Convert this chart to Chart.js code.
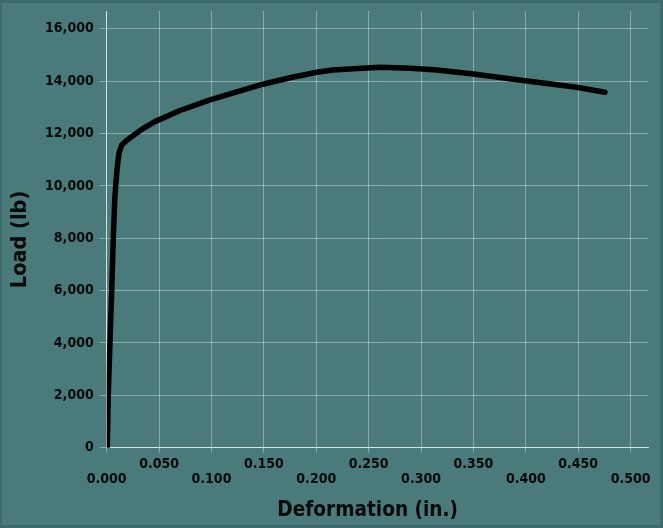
<!DOCTYPE html>
<html><head><meta charset="utf-8">
<script src="https://cdn.jsdelivr.net/npm/chart.js@4/dist/chart.umd.min.js"></script>
<style>
html,body{margin:0;padding:0;background:#3d6a6a;width:663px;height:528px;overflow:hidden;}
#wrap{position:absolute;left:2px;top:3px;width:658px;height:522px;background:#4a7a7a;}
canvas{display:block;}
</style></head><body>
<div id="wrap"><canvas id="c" width="658" height="522"></canvas></div>
<script>
const deformation = [0.0005, 0.0015, 0.0031, 0.0048, 0.0063, 0.0077, 0.0086, 0.0098, 0.0117, 0.0143, 0.0180, 0.0238, 0.035, 0.046, 0.070, 0.0986, 0.125, 0.149, 0.175, 0.2004, 0.216, 0.240, 0.261, 0.290, 0.315, 0.350, 0.401, 0.4485, 0.4755];
const load = [0, 2000, 4000, 6000, 8000, 9500, 10000, 10600, 11250, 11560, 11700, 11880, 12200, 12455, 12880, 13284, 13600, 13884, 14130, 14342, 14430, 14480, 14530, 14490, 14430, 14277, 14010, 13770, 13578];
const xTickValues = [0, 0.05, 0.1, 0.15, 0.2, 0.25, 0.3, 0.35, 0.4, 0.45, 0.5];
const yTickValues = [0, 2000, 4000, 6000, 8000, 10000, 12000, 14000, 16000];
const xTitle = 'Deformation (in.)';
const yTitle = 'Load (lb)';

const FONT = '"DejaVu Sans Condensed", "DejaVu Sans", sans-serif';
const gridColor = 'rgba(225,238,238,0.42)';
const textColor = '#0a0a0a';

new Chart(document.getElementById('c'), {
  type: 'line',
  data: {
    datasets: [{
      data: deformation.map((x, i) => ({x: x, y: load[i]})),
      borderColor: '#000000',
      borderWidth: 5.5,
      borderCapStyle: 'round',
      borderJoinStyle: 'round',
      pointRadius: 0,
      tension: 0,
      fill: false
    }]
  },
  options: {
    responsive: false,
    animation: false,
    devicePixelRatio: 1,
    layout: {padding: {top: 8, right: 12, bottom: 0, left: 0}},
    plugins: {legend: {display: false}, tooltip: {enabled: false}},
    scales: {
      x: {
        type: 'linear',
        min: 0,
        max: 0.5166,
        afterBuildTicks: s => { s.ticks = xTickValues.map(v => ({value: v})); },
        afterFit: s => { s.height = 77.3; s.paddingLeft = 0; s.paddingRight = 0; s.paddingTop = 0; s.paddingBottom = 0; },
        grid: {color: gridColor, lineWidth: 1, tickLength: 5, drawTicks: true},
        border: {color: 'rgba(235,245,245,0.75)', width: 1},
        ticks: {
          autoSkip: false,
          maxRotation: 0,
          minRotation: 0,
          padding: 4,
          color: textColor,
          font: {family: FONT, size: 14, weight: 'bold', lineHeight: 15/14},
          callback: (v, i) => {
            const lbl = Number(v).toFixed(3);
            return i % 2 === 0 ? ['', lbl] : [lbl, ''];
          }
        },
        title: {
          display: true,
          text: xTitle + '   ',
          color: textColor,
          padding: 0,
          font: {family: FONT, size: 20.6, weight: 'bold', lineHeight: 29/20.6}
        }
      },
      y: {
        type: 'linear',
        min: 0,
        max: 16680,
        afterBuildTicks: s => { s.ticks = yTickValues.map(v => ({value: v})); },
        afterFit: s => { s.width = 104.7; s.paddingTop = 0; s.paddingBottom = 0; s.paddingLeft = 0; s.paddingRight = 0; },
        grid: {color: gridColor, lineWidth: 1, tickLength: 7, drawTicks: true},
        border: {color: 'rgba(235,245,245,0.75)', width: 1},
        ticks: {
          padding: 6,
          color: textColor,
          font: {family: FONT, size: 14, weight: 'bold'},
          callback: v => Number(v).toLocaleString('en-US')
        },
        title: {
          display: true,
          text: yTitle + '   ',
          color: textColor,
          padding: 0,
          font: {family: FONT, size: 21.5, weight: 'bold', lineHeight: 36/21.5}
        }
      }
    }
  }
});
</script>
</body></html>
